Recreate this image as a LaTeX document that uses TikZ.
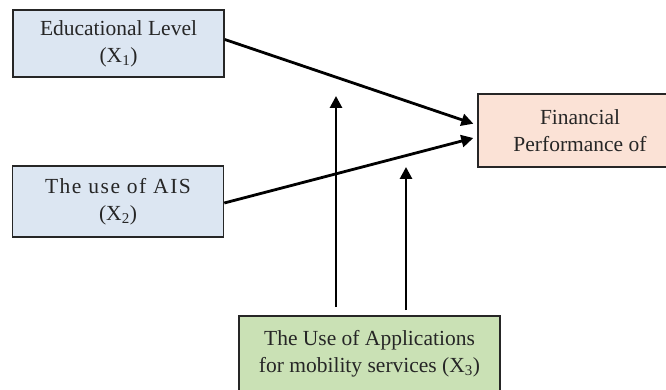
\documentclass[tikz,border=0pt]{standalone}
\usepackage{fontspec}
\setmainfont{Liberation Serif}
\usetikzlibrary{arrows.meta}
\definecolor{boxblue}{HTML}{DCE6F2}
\definecolor{boxpeach}{HTML}{FBE2D6}
\definecolor{boxgreen}{HTML}{CAE1B5}
\tikzset{
  varbox/.style={draw=black!85, line width=1.6pt, align=center, inner sep=0pt,
    font=\fontsize{21.5}{27}\selectfont, text=black!85},
  conn/.style={line width=2.8pt, -{Triangle[length=12pt,width=12pt]}}
}
\begin{document}
\begin{tikzpicture}[x=1pt,y=1pt]
\useasboundingbox (0,0) rectangle (666,390);
\clip (0,0) rectangle (666,390);
\node[varbox, fill=boxblue, minimum width=211pt, minimum height=67pt] (b1) at (118.5,346.5) {Educational Level\\(X\textsubscript{1})};
\node[varbox, fill=boxblue, minimum width=211pt, minimum height=71pt] (b2) at (118,188.5) {{\addfontfeature{LetterSpace=7}The use of AIS}\\(X\textsubscript{2})};
\node[varbox, fill=boxpeach, minimum width=204pt, minimum height=73pt] (fin) at (580,259.5) {Financial\\Performance of};
\node[varbox, fill=boxgreen, minimum width=261pt, minimum height=76pt] (app) at (369.5,36) {The Use of Applications\\for mobility services (X\textsubscript{3})};
\coordinate (t1) at (336,294);
\coordinate (t2) at (406,223);
\draw[conn, shorten >=4pt] ([yshift=4pt]b1.east) -- ([yshift=5.5pt]fin.west);
\draw[conn, shorten >=4pt] ([yshift=-1.5pt]b2.east) -- ([yshift=-6.5pt]fin.west);
\draw[conn] ([xshift=-33.5pt,yshift=8pt]app.north) -- (t1);
\draw[conn] ([xshift=36.5pt,yshift=5pt]app.north) -- (t2);
\end{tikzpicture}
\end{document}
